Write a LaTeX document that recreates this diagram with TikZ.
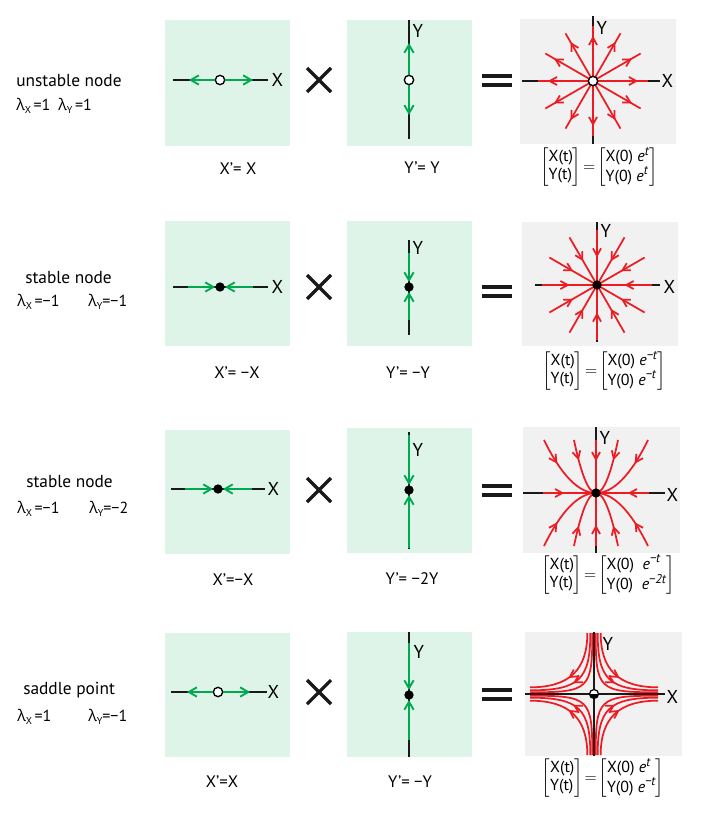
\documentclass[tikz,border=0pt]{standalone}
\usepackage{fontspec}
\setmainfont{PT Sans}
\newfontfamily\greekfont{Open Sans}
\usepackage{amsmath}
\usetikzlibrary{arrows.meta, calc, decorations.markings}
\definecolor{panelgreen}{RGB}{223,244,233}
\definecolor{panelgray}{RGB}{240,241,240}
\definecolor{flowgreen}{RGB}{0,168,80}
\definecolor{flowred}{RGB}{237,28,36}
\newcommand{\lam}[1]{{\greekfont λ}\raisebox{-0.4ex}{\fontsize{7.5}{7.5}\selectfont #1}}
\newcommand{\expo}[1]{\textit{e}\raisebox{0.8ex}{\fontsize{9.5}{9.5}\selectfont\textit{#1}}}
\newcommand{\soln}[4]{$\left[\begin{array}{@{}l@{}}\text{X(t)}\\ \text{Y(t)}\end{array}\right]\!=\!\left[\begin{array}{@{}l@{}}\text{X(0)#1\expo{#2}}\\ \text{Y(0)#3\expo{#4}}\end{array}\right]$}

\begin{document}
\begin{tikzpicture}[
    x=0.75pt, y=-0.75pt,
    panel/.style={fill=panelgreen},
    phase/.style={fill=panelgray},
    axis/.style={line width=0.9pt, black!90},
    gflow/.style={line width=1.4pt, draw=flowgreen, -{Straight Barb[length=6pt, width=7pt]}},
    rflow/.style={line width=1.3pt, draw=flowred},
    mid/.style={postaction={decorate}, decoration={markings,
                mark=at position #1 with {\arrow[flowred]{Straight Barb[length=5.5pt, width=6pt]}}}},
    opendot/.style={circle, draw, line width=1pt, fill=white, inner sep=0pt, minimum size=7pt},
    soliddot/.style={circle, fill=black, inner sep=0pt, minimum size=7pt},
    op/.style={line width=2.4pt, black!90},
    lab/.style={font=\fontsize{13}{15}\selectfont, anchor=west, inner sep=0pt},
    lamlab/.style={font=\fontsize{12}{14}\selectfont, anchor=west, inner sep=0pt},
    eq/.style={font=\fontsize{12.5}{14}\selectfont},
    mat/.style={font=\fontsize{12}{13.5}\selectfont},
    axlab/.style={font=\fontsize{14}{16}\selectfont, anchor=west, inner sep=1pt},
]
\useasboundingbox (0,0) rectangle (707,817);

% ---- row 1: unstable node
\node[lab] (t1) at (16,81) {unstable node};
\node[lamlab] (lx1) at (16,106) {\lam{X}\,=1};
\node[lamlab] (ly1) at (58,106) {\lam{Y}\,=1};
\fill[panel] (165,20) rectangle (290,146);
\draw[axis] (173,80) -- (268,80);
\node[opendot] (ox1) at (220,80) {};
\draw[gflow] (ox1.west) -- (189,80);
\draw[gflow] (ox1.east) -- (253,80);
\node[axlab] (xl1) at (270,80) {X};
\fill[panel] (347,20) rectangle (472,146);
\draw[axis] (409,20) -- (409,139);
\node[opendot] (oy1) at (409,80) {};
\draw[gflow] (oy1.north) -- (409,43);
\draw[gflow] (oy1.south) -- (409,115);
\node[axlab] (yl1) at (411,31) {Y};
\draw[op] (307,68) -- (331,92) (307,92) -- (331,68);
\draw[op, line width=3pt] (482,76) -- (512,76) (482,85) -- (512,85);
\fill[phase] (520,19) rectangle (676,144);
\coordinate (o1) at (593,81);
\draw[axis] (522,81) -- (660,81);
\draw[axis] (593,16) -- (593,144);
\foreach \a in {0,30,...,330}
  \draw[rflow, mid=0.82] (o1) -- ($(o1)+(\a:55)$);
\node[opendot] (c1) at (o1) {};
\node[axlab] (xp1) at (660,81) {X};
\node[axlab] (yp1) at (595,28) {Y};
\node[mat] (m1) at (599,167) {\soln{ }{t}{ }{t}};
\node[eq] (ex1) at (238,169) {X’= X};
\node[eq] (ey1) at (422,168) {Y’= Y};

% ---- row 2: stable node
\node[lab] (t2) at (25,278) {stable node};
\node[lamlab] (lx2) at (17,302) {\lam{X}\,=−1};
\node[lamlab] (ly2) at (88,302) {\lam{Y}=−1};
\fill[panel] (165,221) rectangle (290,346);
\draw[axis] (173,287) -- (268,287);
\node[soliddot] (ox2) at (220,287) {};
\draw[gflow] (188,287) -- (ox2.west);
\draw[gflow] (253,287) -- (ox2.east);
\node[axlab] (xl2) at (270,287) {X};
\fill[panel] (347,221) rectangle (472,346);
\draw[axis] (409,240) -- (409,335);
\node[soliddot] (oy2) at (409,287) {};
\draw[gflow] (409,253) -- (oy2.north);
\draw[gflow] (409,320) -- (oy2.south);
\node[axlab] (yl2) at (411,248) {Y};
\draw[op] (307,275) -- (331,299) (307,299) -- (331,275);
\draw[op, line width=3pt] (482,287) -- (512,287) (482,296) -- (512,296);
\fill[phase] (522,222) rectangle (678,346);
\coordinate (o2) at (597,285);
\draw[axis] (535,285) -- (660,285);
\draw[axis] (597,222) -- (597,342);
\foreach \a in {0,30,...,330}
  \draw[rflow, mid=0.5] ($(o2)+(\a:55)$) -- (o2);
\node[soliddot] (c2) at (o2) {};
\node[axlab] (xp2) at (662,287) {X};
\node[axlab] (yp2) at (599,231) {Y};
\node[mat] (m2) at (604,371) {\soln{ }{−t}{ }{−t}};
\node[eq] (ex2) at (237,373) {X’= −X};
\node[eq] (ey2) at (408,373) {Y’= −Y};

% ---- row 3: stable node, unequal rates
\node[lab] (t3) at (26,482) {stable node};
\node[lamlab] (lx3) at (17,509) {\lam{X}\,=−1};
\node[lamlab] (ly3) at (89,509) {\lam{Y}=−2};
\fill[panel] (165,430) rectangle (290,554);
\draw[axis] (171,489) -- (265,489);
\node[soliddot] (ox3) at (218,489) {};
\draw[gflow] (185,489) -- (ox3.west);
\draw[gflow] (252,489) -- (ox3.east);
\node[axlab] (xl3) at (266,489) {X};
\fill[panel] (347,428) rectangle (472,553);
\draw[axis] (409,432) -- (409,549);
\node[soliddot] (oy3) at (409,490) {};
\draw[gflow] (409,435) -- (oy3.north);
\draw[gflow] (409,548) -- (oy3.south);
\node[axlab] (yl3) at (411,450) {Y};
\draw[op] (307,478) -- (331,502) (307,502) -- (331,478);
\draw[op, line width=3pt] (482,486) -- (512,486) (482,495) -- (512,495);
\fill[phase] (523,427) rectangle (680,553);
\coordinate (o3) at (596,493);
\draw[axis] (523,493) -- (665,493);
\draw[axis] (596,427) -- (596,553);
\begin{scope}[shift={(o3)}]
  \foreach \a in {0,90,180,270}
    \draw[rflow, mid=0.4] (\a:53) -- (0,0);
  % y = c x^2 trajectories, as exact quadratic curves
  \foreach \sx in {-1,1}
    \foreach \sy in {-1,1}
      \foreach \xx in {52,22}
        \draw[rflow, mid=0.35] (\sx*\xx,\sy*53)
          .. controls (\sx*\xx*2/3,\sy*53/3) and (\sx*\xx/3,0) .. (0,0);
\end{scope}
\node[soliddot] (c3) at (o3) {};
\node[axlab] (xp3) at (665,495) {X};
\node[axlab] (yp3) at (598,438) {Y};
\node[mat] (m3) at (608,575) {\soln{\ \ }{−t}{\ \ }{−2t}};
\node[eq] (ex3) at (233,580) {X’=−X};
\node[eq] (ey3) at (412,579) {Y’= −2Y};

% ---- row 4: saddle point
\node[lab] (t4) at (23,690) {saddle point};
\node[lamlab] (lx4) at (17,717) {\lam{X}\,=1};
\node[lamlab] (ly4) at (88,717) {\lam{Y}=−1};
\fill[panel] (165,633) rectangle (290,757);
\draw[axis] (171,692) -- (267,692);
\node[opendot] (ox4) at (218,692) {};
\draw[gflow] (ox4.west) -- (187,692);
\draw[gflow] (ox4.east) -- (250,692);
\node[axlab] (xl4) at (266,692) {X};
\fill[panel] (347,632) rectangle (472,757);
\draw[axis] (409,632) -- (409,757);
\node[soliddot] (oy4) at (409,695) {};
\draw[gflow] (409,643) -- (oy4.north);
\draw[gflow] (409,740) -- (oy4.south);
\node[axlab] (yl4) at (412,652) {Y};
\draw[op] (307,680) -- (331,704) (307,704) -- (331,680);
\draw[op, line width=3pt] (482,690) -- (512,690) (482,699) -- (512,699);
\fill[phase] (525,632) rectangle (682,756);
\coordinate (o4) at (594,694);
\draw[axis] (525,694) -- (665,694);
\draw[axis] (594,632) -- (594,756);
\begin{scope}[shift={(o4)}]
  % xy = c, end a = c/60, control h
  \foreach \sx in {-1,1}
    \foreach \sy in {-1,1} {
      \foreach \a/\h in {6.67/24.4, 3.67/14.7}
        \draw[rflow, mid=0.56] (\sx*\a,\sy*61)
          .. controls (\sx*\a,\sy*\h) and (\sx*\h,\sy*\a) .. (\sx*64,\sy*\a);
      \draw[rflow] (\sx*1.7,\sy*61)
          .. controls (\sx*1.7,\sy*4.4) and (\sx*4.4,\sy*1.7) .. (\sx*64,\sy*1.7);
    }
\end{scope}
\fill[white] (o4) circle[radius=4.5];
\fill[black] ($(o4)+(4.5,0)$) arc[start angle=0, end angle=180, radius=4.5] -- cycle;
\draw[line width=0.9pt] (o4) circle[radius=4.5];
\node[axlab] (xp4) at (665,697) {X};
\node[axlab] (yp4) at (601,644) {Y};
\node[mat] (m4) at (603,778) {\soln{ }{t}{ }{−t}};
\node[eq] (ex4) at (222,782) {X’=X};
\node[eq] (ey4) at (410,782) {Y’= −Y};
\end{tikzpicture}
\end{document}
